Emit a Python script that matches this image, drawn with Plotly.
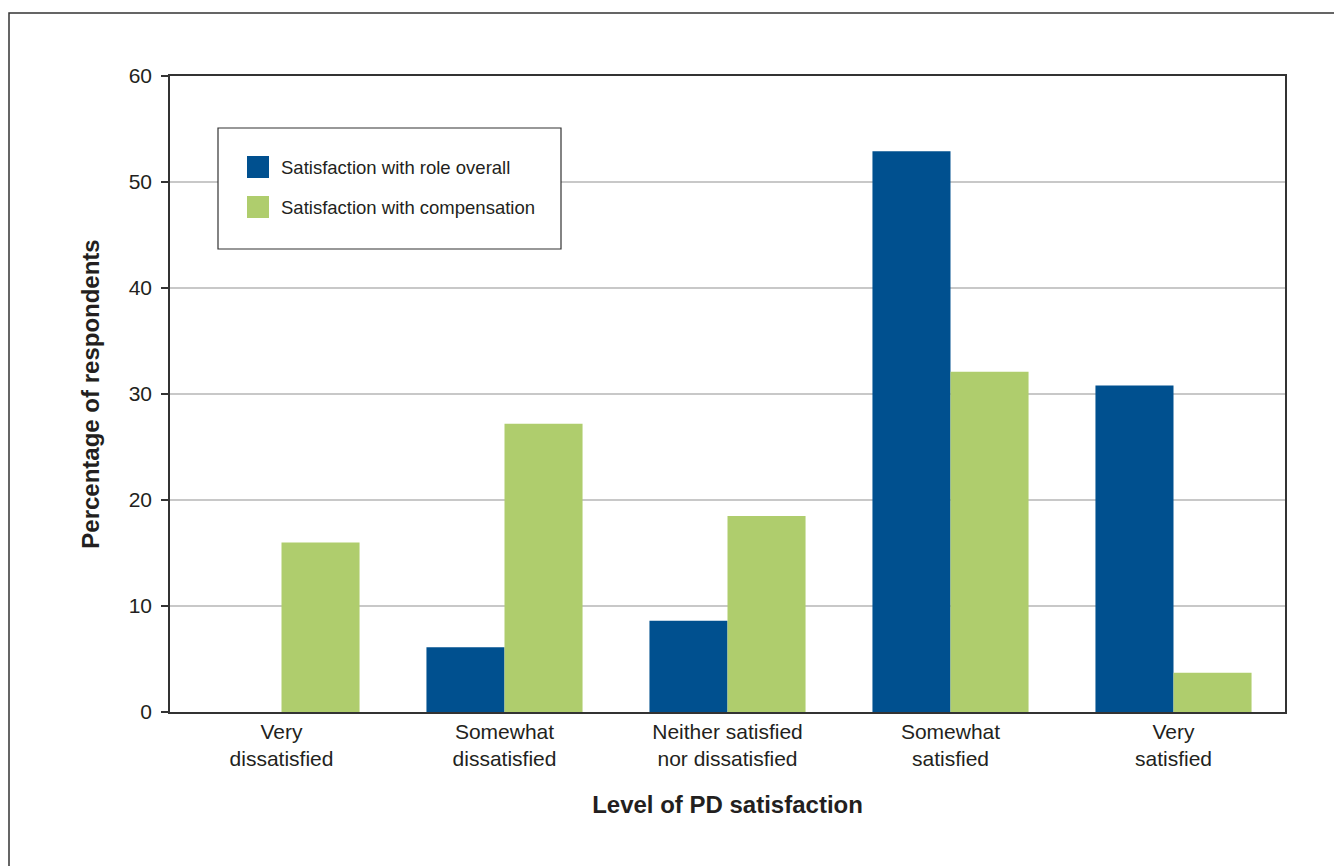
import plotly.graph_objects as go

categories = ["Very<br>dissatisfied", "Somewhat<br>dissatisfied", "Neither satisfied<br>nor dissatisfied",
              "Somewhat<br>satisfied", "Very<br>satisfied"]
role_overall = [0, 6.1, 8.6, 52.9, 30.8]
compensation = [16.0, 27.2, 18.5, 32.1, 3.7]
series_names = ["Satisfaction with role overall", "Satisfaction with compensation"]
y_ticks = [0, 10, 20, 30, 40, 50, 60]

BLUE = "#00508f"
GREEN = "#afcd6d"
TXT = "#231f20"
FONT = "Liberation Sans, Arial, Helvetica, sans-serif"

# page has an 8px body margin; figure is sized/offset to compensate
OFF = 8
W, H = 1342 - OFF, 866 - OFF
PL, PR, PT, PB = 170, 1285, 76, 712   # plot area in page pixels
L, T = PL - OFF, PT - OFF
R, B = W - (PR - OFF), H - (PB - OFF)
pw, ph = PR - PL, PB - PT

def px(x):
    return (x - PL) / pw

def py(y):
    return (PB - y) / ph

fig = go.Figure()
fig.add_trace(go.Bar(x=categories, y=role_overall, name=series_names[0],
                     marker=dict(color=BLUE, line=dict(width=0)), showlegend=False))
fig.add_trace(go.Bar(x=categories, y=compensation, name=series_names[1],
                     marker=dict(color=GREEN, line=dict(width=0)), showlegend=False))

shapes = [
    # outer frame
    dict(type="rect", xref="paper", yref="paper", x0=px(9), x1=px(1360), y0=py(880), y1=py(13),
         line=dict(color="#333333", width=1.5), fillcolor="rgba(0,0,0,0)", layer="below"),
    # legend box
    dict(type="rect", xref="paper", yref="paper", x0=px(218), x1=px(561), y0=py(249), y1=py(128),
         line=dict(color="#333333", width=1.2), fillcolor="white", layer="above"),
    dict(type="rect", xref="paper", yref="paper", x0=px(247), x1=px(269), y0=py(178), y1=py(156),
         line=dict(width=0), fillcolor=BLUE, layer="above"),
    dict(type="rect", xref="paper", yref="paper", x0=px(247), x1=px(269), y0=py(218), y1=py(196),
         line=dict(width=0), fillcolor=GREEN, layer="above"),
]
annotations = [
    dict(xref="paper", yref="paper", x=px(279), y=py(167), text=series_names[0], showarrow=False,
         xanchor="left", yanchor="middle", font=dict(size=18.5, color=TXT, family=FONT)),
    dict(xref="paper", yref="paper", x=px(279), y=py(207), text=series_names[1], showarrow=False,
         xanchor="left", yanchor="middle", font=dict(size=18.5, color=TXT, family=FONT)),
]

fig.update_layout(
    width=W, height=H,
    margin=dict(l=L, r=R, t=T, b=B, autoexpand=False),
    paper_bgcolor="white", plot_bgcolor="white",
    barmode="group", bargap=0.3, bargroupgap=0,
    font=dict(family=FONT, color=TXT, size=21),
    shapes=shapes, annotations=annotations,
    xaxis=dict(
        showline=True, linecolor="#333333", linewidth=1.5, mirror=True,
        ticks="", showgrid=False,
        tickfont=dict(size=21, color=TXT, family=FONT),
        title=dict(text="<b>Level of PD satisfaction</b>", font=dict(size=24, color=TXT, family=FONT),
                   standoff=27),
        automargin=False,
    ),
    yaxis=dict(
        range=[0, 60], tickvals=y_ticks,
        showline=True, linecolor="#333333", linewidth=1.5, mirror=True,
        ticks="outside", ticklen=7, tickcolor="#333333", tickwidth=1.5,
        ticklabelstandoff=5,
        showgrid=True, gridcolor="#c8c8c8", gridwidth=1.5, zeroline=False,
        tickfont=dict(size=21, color=TXT, family=FONT),
        title=dict(text="<b>Percentage of respondents</b>", font=dict(size=24, color=TXT, family=FONT),
                   standoff=22),
        automargin=False,
    ),
)

fig.write_html("out.html")
